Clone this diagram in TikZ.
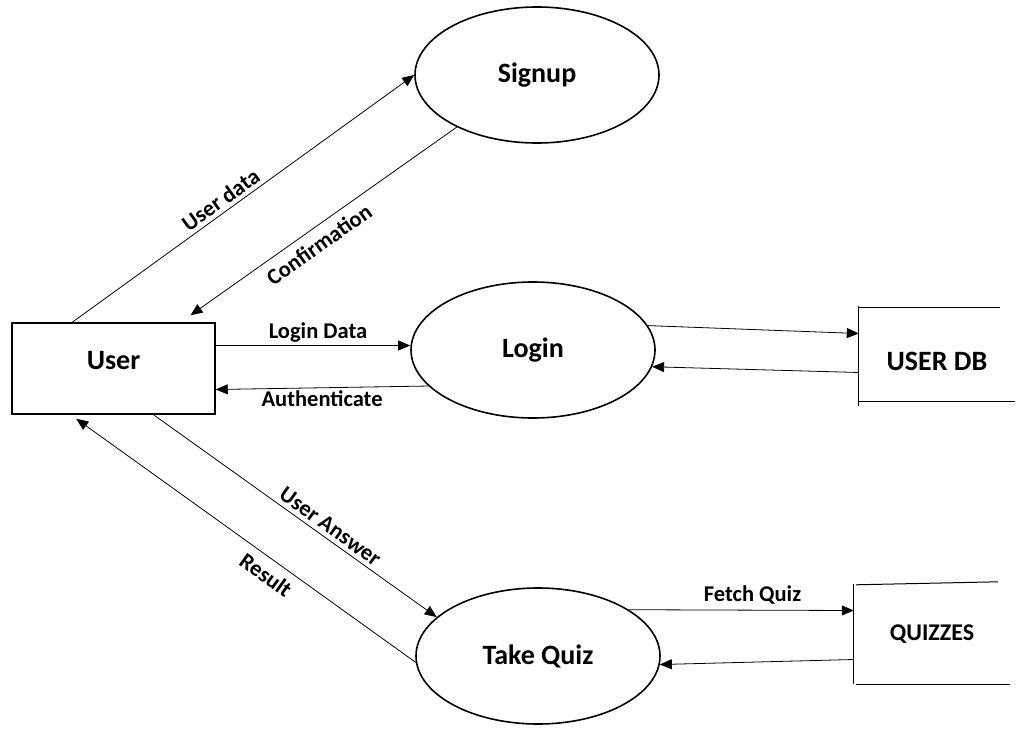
\documentclass[tikz,border=0pt]{standalone}
\usepackage{fontspec}
\setmainfont{Carlito}
\usetikzlibrary{positioning,arrows.meta,shapes.geometric}

\begin{document}
\begin{tikzpicture}[x=1pt, y=-1pt, every node/.style={font=\bfseries}]
\tikzstyle{proc}=[draw, line width=1.6pt, ellipse, minimum width=244pt, minimum height=136pt, inner sep=0pt, font=\fontsize{28}{30}\selectfont\bfseries]
\tikzstyle{store}=[minimum width=156pt, inner sep=0pt]
\tikzstyle{flow}=[-{Triangle[length=12pt,width=10pt]}, line width=0.8pt]
\tikzstyle{lbl}=[font=\fontsize{22.5}{24}\selectfont\bfseries, inner sep=3pt]
\useasboundingbox (0,0) rectangle (1030,749);
\node[draw, line width=1.5pt, minimum width=203pt, minimum height=91pt, text depth=16pt, font=\fontsize{28}{30}\selectfont\bfseries] (user) at (113.5,368.5) {User};
\node[proc] (signup) at (537,75) {Signup};
\node[proc] (login) at (533,350) {Login};
\node[proc] (quiz) at (538,656) {Take Quiz};
\node[store, minimum height=93pt, text height=32pt, font=\fontsize{28}{30}\selectfont\bfseries] (userdb) at (937,354.5) {USER DB};
\node[store, minimum height=99pt, font=\fontsize{24}{26}\selectfont\bfseries] (quizzes) at (932,634.5) {QUIZZES};
\draw[line width=1pt] ([yshift=2pt]userdb.north west) -- ([yshift=-5pt]userdb.south west);
\draw[line width=1pt] (userdb.north west) -- ([xshift=-15pt]userdb.north east);
\draw[line width=1pt] (userdb.south west) -- (userdb.south east);
\draw[line width=1pt] ([yshift=1pt]quizzes.north west) -- (quizzes.south west);
\draw[line width=1pt] ([xshift=2pt]quizzes.north west) -- ([xshift=-12pt,yshift=3pt]quizzes.north east);
\draw[line width=1pt] ([xshift=2pt]quizzes.south west) -- (quizzes.south east);
\draw[flow] ([xshift=61pt]user.north west) -- node[lbl, pos=0.455, above, sloped, inner sep=4pt] {User data} (signup.west);
\draw[flow] (signup.213) -- node[lbl, pos=0.553, below, sloped, inner sep=8pt] {Confirmation} ([xshift=77pt,yshift=7pt]user.north);
\draw[flow] ([yshift=23pt]user.east) -- node[lbl, above, xshift=5pt] {Login Data} ([yshift=23pt]user.east -| login.west);
\draw[flow] (login.199) -- node[lbl, below] {Authenticate} ([yshift=-21pt]user.east);
\draw[flow] (login.12) -- ([yshift=21pt]userdb.west);
\draw[flow] ([yshift=-18pt]userdb.west) -- (login.352);
\draw[flow] ([xshift=40pt]user.south) -- node[lbl, pos=0.6, above, sloped, inner sep=4pt] {User Answer} (quiz.159);
\draw[flow] (quiz.183) -- node[lbl, pos=0.413, below, sloped, inner sep=8pt] {Result} ([xshift=65pt,yshift=-4pt]user.south west);
\draw[flow] (quiz.27) -- node[lbl, pos=0.55, above, inner sep=5pt] {Fetch Quiz} ([yshift=24pt]quizzes.west);
\draw[flow] ([yshift=-25pt]quizzes.west) -- (quiz.356);
\end{tikzpicture}
\end{document}
